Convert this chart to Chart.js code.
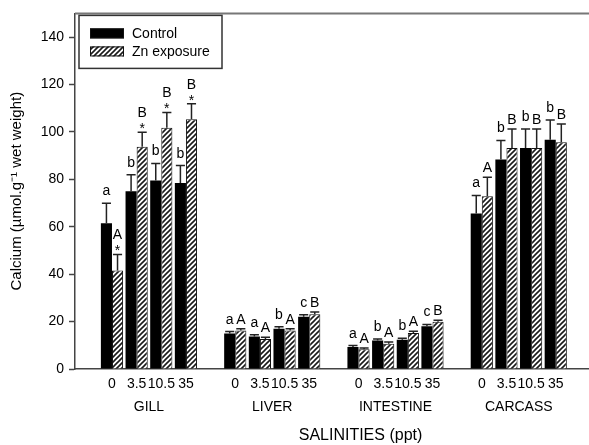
<!DOCTYPE html>
<html>
<head>
<meta charset="utf-8">
<script src="https://cdn.jsdelivr.net/npm/chart.js@4.4.1/dist/chart.umd.min.js"></script>
<style>
  html, body { margin: 0; padding: 0; background: #fff; overflow: hidden; width: 589px; height: 445px; }
  canvas { display: block; }
</style>
</head>
<body>
<!-- the plot frame runs on past the right edge of the page -->
<canvas id="c" width="646" height="445"></canvas>
<script>
// Tissues and salinity treatments
const groups = ['GILL', 'LIVER', 'INTESTINE', 'CARCASS'];
const salinities = ['0', '3.5', '10.5', '35'];

// Calcium (µmol/g wet weight), one value per tissue x salinity, in order
const controlMeans = [61.5, 75.0, 79.5, 78.5,   15.0, 13.7, 17.0, 22.0,   9.3, 12.0, 12.3, 18.0,   65.6, 88.4, 93.2, 96.7];
const controlErr   = [ 8.4,  6.9,  7.2,  7.3,    0.8,  0.7,  0.8,  0.9,   0.6,  0.7,  0.7,  0.8,    7.6,  8.0,  8.0,  8.3];
const znMeans      = [41.5, 93.8, 101.8, 105.4, 16.2, 12.7, 16.2, 23.1,   8.3, 10.7, 15.2, 19.9,   72.9, 93.2, 93.2, 95.7];
const znErr        = [ 6.8,  6.1,  6.4,  6.5,    0.8,  0.7,  0.8,  0.9,   0.6,  0.7,  0.7,  0.7,    8.0,  8.0,  8.0,  7.6];

// Significance letters and asterisks above each bar
const controlLetters = ['a', 'b', 'b', 'b',  'a', 'a', 'b', 'c',  'a', 'b', 'b', 'c',  'a', 'b', 'b', 'b'];
const znLetters      = ['A', 'B', 'B', 'B',  'A', 'A', 'A', 'B',  'A', 'A', 'A', 'B',  'A', 'B', 'B', 'B'];
const znStars        = [true, true, true, true, false, false, false, false, false, false, false, false, false, false, false, false];

const yTicks = [0, 20, 40, 60, 80, 100, 120, 140];

// Slot index of each bar pair: one empty slot between tissues
const perGroup = salinities.length;
const slots = [];
groups.forEach((g, gi) => salinities.forEach((s, si) => slots.push(gi * (perGroup + 1) + si)));
const groupCenters = groups.map((g, gi) => gi * (perGroup + 1) + (perGroup - 1) / 2);

const FONT = "'Liberation Sans', Arial, Helvetica, sans-serif";
Chart.defaults.font.family = FONT;
Chart.defaults.color = '#000';

const canvas = document.getElementById('c');
const mainCtx = canvas.getContext('2d');

// Diagonal hatch fill for the Zn exposure bars
function makeHatch() {
  const s = 5;
  const p = document.createElement('canvas');
  p.width = s; p.height = s;
  const g = p.getContext('2d');
  g.fillStyle = '#fff';
  g.fillRect(0, 0, s, s);
  g.strokeStyle = '#1a1a1a';
  g.lineWidth = 1.6;
  g.beginPath();
  g.moveTo(-1, s + 1); g.lineTo(s + 1, -1);
  g.moveTo(-1, 1); g.lineTo(1, -1);
  g.moveTo(s - 1, s + 1); g.lineTo(s + 1, s - 1);
  g.stroke();
  return mainCtx.createPattern(p, 'repeat');
}
const hatch = makeHatch();

const xMin = -1.5, xMax = 21.66;

const whiteBg = {
  id: 'whiteBg',
  beforeDraw(chart) {
    const { ctx, width, height } = chart;
    ctx.save();
    ctx.fillStyle = '#fff';
    ctx.fillRect(0, 0, width, height);
    ctx.restore();
  }
};

// Top frame line of the plot
const frameTop = {
  id: 'frameTop',
  afterDraw(chart) {
    const { ctx, chartArea: a } = chart;
    ctx.save();
    ctx.strokeStyle = '#777';
    ctx.lineWidth = 2;
    ctx.beginPath();
    ctx.moveTo(a.left, a.top);
    ctx.lineTo(a.right, a.top);
    ctx.stroke();
    ctx.restore();
  }
};

// Error bars (upper whisker) and significance marks
const errorMarks = {
  id: 'errorMarks',
  afterDatasetsDraw(chart) {
    const { ctx } = chart;
    const yScale = chart.scales.y;
    const sets = [
      { errs: controlErr, letters: controlLetters, stars: null },
      { errs: znErr, letters: znLetters, stars: znStars }
    ];
    sets.forEach((set, di) => {
      const meta = chart.getDatasetMeta(di);
      const data = chart.data.datasets[di].data;
      meta.data.forEach((bar, i) => {
        const top = yScale.getPixelForValue(data[i].y + set.errs[i]);
        const half = bar.width / 2 - 1;
        ctx.save();
        ctx.strokeStyle = '#222';
        ctx.lineWidth = 1.5;
        ctx.beginPath();
        ctx.moveTo(bar.x, bar.y);
        ctx.lineTo(bar.x, top);
        ctx.moveTo(bar.x - half, top);
        ctx.lineTo(bar.x + half, top);
        ctx.stroke();

        ctx.fillStyle = '#000';
        ctx.textAlign = 'center';
        ctx.textBaseline = 'alphabetic';
        ctx.font = '14px ' + FONT;
        const letter = set.letters[i];
        if (set.stars && set.stars[i]) {
          ctx.fillText('*', bar.x, top + 1);
          ctx.fillText(letter, bar.x, top - 15);
        } else {
          ctx.fillText(letter, bar.x, top - (di === 0 ? 8 : 5));
        }
        ctx.restore();
      });
    });
  }
};

// Boxed legend in the upper-left corner of the plot
const boxedLegend = {
  id: 'boxedLegend',
  afterDraw(chart) {
    const { ctx, chartArea: a } = chart;
    const left = a.left + 4, top = a.top + 2, w = 143, h = 53;
    ctx.save();
    ctx.strokeStyle = '#333';
    ctx.lineWidth = 1.5;
    ctx.strokeRect(left, top, w, h);
    chart.data.datasets.forEach((ds, i) => {
      const cy = top + 18 + i * 18;
      ctx.fillStyle = ds.backgroundColor;
      ctx.fillRect(left + 11, cy - 5, 34, 10);
      ctx.strokeStyle = '#111';
      ctx.lineWidth = 1;
      ctx.strokeRect(left + 11.5, cy - 4.5, 33, 9);
      ctx.fillStyle = '#000';
      ctx.font = '14px ' + FONT;
      ctx.textAlign = 'left';
      ctx.textBaseline = 'middle';
      ctx.fillText(ds.label, left + 53, cy + 1);
    });
    ctx.restore();
  }
};

new Chart(canvas, {
  type: 'bar',
  data: {
    datasets: [
      {
        label: 'Control',
        data: controlMeans.map((v, i) => ({ x: slots[i], y: v })),
        backgroundColor: '#000',
        borderColor: '#000',
        borderWidth: 0
      },
      {
        label: 'Zn exposure',
        data: znMeans.map((v, i) => ({ x: slots[i], y: v })),
        backgroundColor: hatch,
        borderColor: '#111',
        borderWidth: 1
      }
    ]
  },
  options: {
    responsive: false,
    animation: false,
    devicePixelRatio: 1,
    layout: { padding: { left: 0, top: 8, right: 0, bottom: 0 } },
    datasets: { bar: { categoryPercentage: 0.9, barPercentage: 1.0 } },
    plugins: { legend: { display: false }, tooltip: { enabled: false } },
    scales: {
      x: {
        type: 'linear',
        position: 'bottom',
        offset: false,
        min: xMin,
        max: xMax,
        afterBuildTicks: s => { s.ticks = slots.map(v => ({ value: v })); },
        afterFit: s => { s.height = 26; },
        ticks: {
          autoSkip: false, maxRotation: 0, minRotation: 0, padding: 7,
          font: { size: 14 }, color: '#000',
          callback: (v, i) => salinities[i % perGroup]
        },
        grid: { display: false, drawTicks: false, offset: false },
        border: { display: true, color: '#444', width: 1.5 }
      },
      xg: {
        type: 'linear',
        position: 'bottom',
        offset: false,
        min: xMin,
        max: xMax,
        afterBuildTicks: s => { s.ticks = groupCenters.map(v => ({ value: v })); },
        afterFit: s => { s.height = 50; },
        ticks: {
          autoSkip: false, maxRotation: 0, minRotation: 0, padding: 4,
          font: { size: 14 }, color: '#000',
          callback: (v, i) => groups[i]
        },
        grid: { display: false, drawTicks: false, offset: false },
        border: { display: false },
        title: {
          display: true, text: 'SALINITIES (ppt)',
          font: { size: 16 }, color: '#000',
          padding: { top: 0, bottom: 0 }
        }
      },
      y: {
        min: 0,
        max: 150,
        afterBuildTicks: s => { s.ticks = yTicks.map(v => ({ value: v })); },
        afterFit: s => { s.width = 75; },
        ticks: { font: { size: 14 }, color: '#000', padding: 5 },
        grid: { drawOnChartArea: false, drawTicks: true, tickLength: 6, tickColor: '#444', tickWidth: 1.5 },
        border: { display: true, color: '#444', width: 1.5 },
        title: {
          display: true, text: 'Calcium (µmol.g⁻¹ wet weight)',
          font: { size: 15 }, color: '#000',
          padding: { top: 8, bottom: 0 }
        }
      }
    }
  },
  plugins: [whiteBg, errorMarks, frameTop, boxedLegend]
});
</script>
</body>
</html>
